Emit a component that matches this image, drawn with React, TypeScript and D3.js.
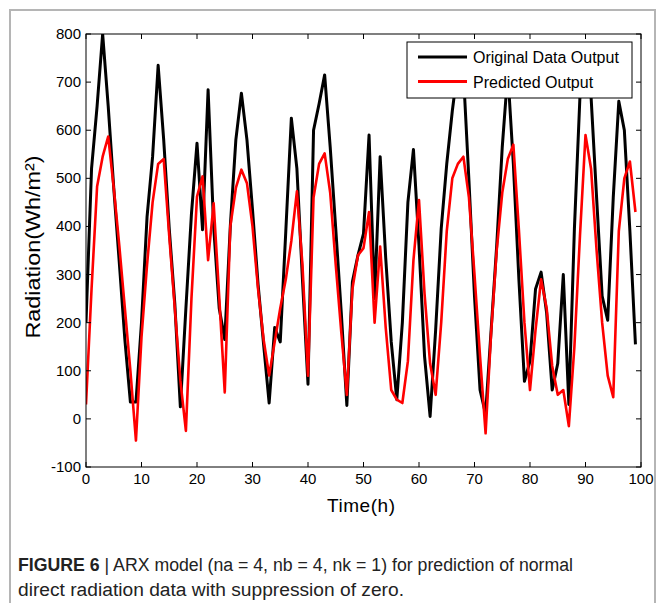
import React from "react";
import * as d3 from "d3";

const times: number[] = Array.from({ length: 100 }, (_, i) => i);

const originalOutput: number[] = [
  200, 520, 650, 800, 650, 480, 325, 165, 35, 35,
  200, 420, 545, 735, 580, 395, 240, 25, 230, 426,
  573, 393, 684, 400, 230, 165, 400, 580, 677, 580,
  435, 280, 155, 33, 190, 160, 390, 625, 520, 290,
  72, 600, 655, 715, 565, 395, 220, 28, 285, 340,
  385, 590, 250, 545, 335, 160, 40, 200, 450, 560,
  360, 130, 5, 185, 395, 530, 640, 730, 720, 495,
  255, 60, 10, 185, 360, 565, 720, 530, 290, 78,
  120, 270, 305, 220, 60, 115, 300, 30, 395, 670,
  730, 670, 460, 255, 205, 460, 660, 600, 390, 155,
];

const predictedOutput: number[] = [
  30, 270, 483, 545, 587, 480, 360, 230, 100, -45,
  170, 320, 450, 530, 540, 380, 230, 80, -25, 250,
  462, 504, 330, 448, 254, 55, 400, 480, 518, 490,
  400, 270, 165, 90, 160, 230, 290, 370, 473, 320,
  90, 460, 530, 552, 470, 320, 180, 50, 270, 340,
  355, 430, 200, 358, 190, 60, 40, 33, 120, 330,
  455, 260, 115, 50, 200, 390, 500, 530, 545, 460,
  300, 130, -30, 180, 350, 470, 540, 570, 393, 200,
  60, 185, 290, 230, 110, 50, 60, -15, 150, 380,
  590, 520, 350, 200, 90, 45, 390, 500, 535, 430,
];

const xTicks: number[] = [0, 10, 20, 30, 40, 50, 60, 70, 80, 90, 100];
const yTicks: number[] = [-100, 0, 100, 200, 300, 400, 500, 600, 700, 800];
const legendLabels: string[] = ["Original Data Output", "Predicted Output"];
const seriesColors: string[] = ["#000000", "#ff0000"];

const W = 664;
const H = 603;
const L = 86, R = 641, T = 34, B = 467;

export default function App() {
  const x = d3.scaleLinear().domain([0, 100]).range([L, R]);
  const y = d3.scaleLinear().domain([-100, 800]).range([B, T]);
  const line = d3
    .line<number>()
    .x((_, i) => x(times[i]))
    .y((d) => y(d));

  const tickFont = "'Liberation Sans', Arial, sans-serif";
  const capFont = "'Liberation Sans', Arial, sans-serif";
  const tl = 5;

  return (
    <svg
      width={W}
      height={H}
      style={{ position: "absolute", left: 0, top: 0, background: "#fff" }}
    >
      <rect x={0} y={0} width={W} height={H} fill="#fff" />
      <rect x={10} y={10} width={645} height={620} fill="none" stroke="#b5b5b5" strokeWidth={2} />

      <defs>
        <clipPath id="plotclip">
          <rect x={L} y={T} width={R - L} height={B - T} />
        </clipPath>
      </defs>

      <g clipPath="url(#plotclip)">
        <path d={line(originalOutput) || ""} fill="none" stroke={seriesColors[0]} strokeWidth={3} strokeLinejoin="round" />
        <path d={line(predictedOutput) || ""} fill="none" stroke={seriesColors[1]} strokeWidth={2.6} strokeLinejoin="round" />
      </g>

      <rect x={L} y={T} width={R - L} height={B - T} fill="none" stroke="#000" strokeWidth={1} />

      {xTicks.map((t) => (
        <g key={"xt" + t}>
          <line x1={x(t)} x2={x(t)} y1={B} y2={B - tl} stroke="#000" />
          <line x1={x(t)} x2={x(t)} y1={T} y2={T + tl} stroke="#000" />
          <text x={x(t)} y={B + 17} textAnchor="middle" fontSize={15} fontFamily={tickFont} fill="#000">
            {t}
          </text>
        </g>
      ))}
      {yTicks.map((t) => (
        <g key={"yt" + t}>
          <line x1={L} x2={L + tl} y1={y(t)} y2={y(t)} stroke="#000" />
          <line x1={R} x2={R - tl} y1={y(t)} y2={y(t)} stroke="#000" />
          <text x={L - 5} y={y(t) + 5} textAnchor="end" fontSize={15} fontFamily={tickFont} fill="#000">
            {t}
          </text>
        </g>
      ))}

      <text x={361} y={512} textAnchor="middle" fontSize={19} fontFamily={tickFont} textLength={68} lengthAdjust="spacing">
        Time(h)
      </text>
      <text
        transform={`translate(40,247) rotate(-90)`}
        textAnchor="middle"
        fontSize={21}
        fontFamily={tickFont}
        textLength={183}
        lengthAdjust="spacingAndGlyphs"
      >
        Radiation(Wh/m²)
      </text>

      <g>
        <rect x={407} y={42} width={225} height={56} fill="#fff" stroke="#000" strokeWidth={1} />
        {legendLabels.map((lab, i) => (
          <g key={lab}>
            <line x1={418} x2={467} y1={57 + i * 24.5} y2={57 + i * 24.5} stroke={seriesColors[i]} strokeWidth={3} />
            <text x={473} y={63 + i * 24.5} fontSize={16} fontFamily={tickFont} fill="#000">
              {lab}
            </text>
          </g>
        ))}
      </g>

      <text x={18} y={571} fontSize={18} fontFamily={capFont} fill="#222" textLength={555} lengthAdjust="spacingAndGlyphs">
        <tspan fontWeight="bold">FIGURE 6</tspan>
        <tspan> | ARX model (na = 4, nb = 4, nk = 1) for prediction of normal</tspan>
      </text>
      <text x={18} y={596} fontSize={18} fontFamily={capFont} fill="#222" textLength={386} lengthAdjust="spacingAndGlyphs">
        direct radiation data with suppression of zero.
      </text>
    </svg>
  );
}
